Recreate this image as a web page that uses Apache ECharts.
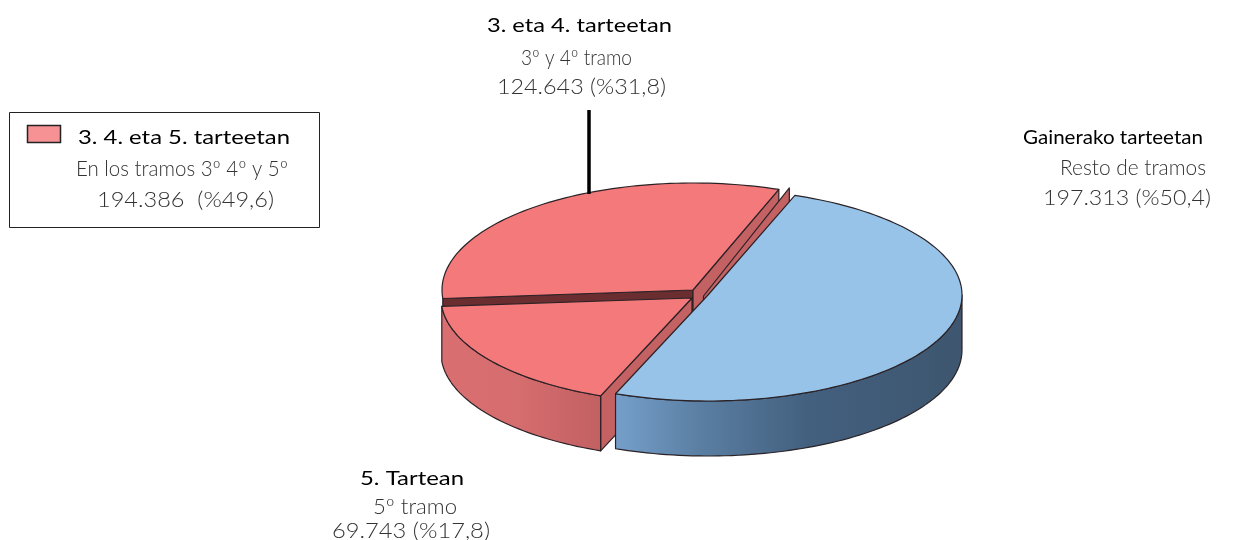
<!DOCTYPE html>
<html>
<head>
<meta charset="utf-8">
<style>
  html, body { margin: 0; padding: 0; background: #fff; }
  #chart { width: 1233px; height: 540px; }
</style>
</head>
<body>
<div id="chart"></div>
<script src="https://cdn.jsdelivr.net/npm/echarts@6/dist/echarts.min.js"></script>
<script>
// slices in draw order: back to front
var sliceNames = ["3. eta 4. tarteetan", "5. Tartean", "Gainerako tarteetan"];
var sliceValues = [124643, 69743, 197313];
var groupValue = 194386; // 3 + 4 + 5

var subNames = ["3º y 4º tramo", "5º tramo", "Resto de tramos"];
var valueLabels = ["124.643 (%31,8)", "69.743 (%17,8)", "197.313 (%50,4)"];

var legendName = "3. 4. eta 5. tarteetan";
var legendSub = "En los tramos 3º 4º y 5º";
var legendValueLabel = "194.386  (%49,6)";

var total = sliceValues[0] + sliceValues[1] + sliceValues[2];
var seam = 290; // angle where the last red slice meets the blue one
var depth = 55;

// each slice is pulled a bit away from the middle
var pieces = [
  { cx: 693, cy: 290, rx: 251, ry: 107, top: "#f4797b" },
  { cx: 692, cy: 298, rx: 251, ry: 105, top: "#f4797b" },
  { cx: 708, cy: 295, rx: 254, ry: 106, top: "#97c3e8" },
];
var edge = "#2b2226";
var cutRed = "#c46163";
var cutDark = "#6b2e30";

function pt(p, deg, drop) {
  var a = (deg * Math.PI) / 180;
  return [p.cx + p.rx * Math.cos(a), p.cy + p.ry * Math.sin(a) + (drop || 0)];
}

function arc(p, from, to, drop) {
  var out = [];
  var n = Math.max(2, Math.ceil(Math.abs(to - from) / 1.5));
  for (var i = 0; i <= n; i++) {
    out.push(pt(p, from + ((to - from) * i) / n, drop));
  }
  return out;
}

function face(points, fill) {
  return {
    type: "polygon",
    shape: { points: points },
    style: { fill: fill, stroke: edge, lineWidth: 1.2, lineJoin: "round" },
  };
}

function cut(p, deg, fill) {
  var a = [p.cx, p.cy];
  var b = pt(p, deg);
  return face([a, b, [b[0], b[1] + depth], [a[0], a[1] + depth]], fill);
}

function wall(p, from, to, fill) {
  // only the part of the rim that faces the viewer
  var a = Math.max(from, 0);
  var b = Math.min(to, 180);
  if (b <= a) return null;
  return face(arc(p, a, b, 0).concat(arc(p, b, a, depth)), fill);
}

var redWall = new echarts.graphic.LinearGradient(0, 0, 1, 0, [
  { offset: 0, color: "#d96f71" },
  { offset: 0.5, color: "#d56c6e" },
  { offset: 1, color: "#c26062" },
]);
var blueWall = new echarts.graphic.LinearGradient(0, 0, 1, 0, [
  { offset: 0, color: "#759fca" },
  { offset: 0.25, color: "#5a7ea2" },
  { offset: 0.55, color: "#43607f" },
  { offset: 1, color: "#3e566f" },
]);

function renderSlice(params, api) {
  var i = params.dataIndex;
  var p = pieces[i];
  var end = seam;
  for (var k = 0; k < i; k++) end -= (sliceValues[k] / total) * 360;
  var start = end - (api.value(0) / total) * 360;
  if (i === 2) {
    start = seam - 360;
    end = start + (api.value(0) / total) * 360;
  }
  var kids = [];
  if (i === 0) {
    // cut face of the whole red group shows behind the upper slice
    var g = { cx: 703.5, cy: 296, rx: p.rx, ry: 115 };
    kids.push(cut(p, start, cutDark));
    kids.push(cut(p, end, cutRed));
    kids.push(cut(g, start + (groupValue / total) * 360 - (sliceValues[1] / total) * 360, cutRed));
  }
  if (i === 1) {
    kids.push(cut(p, start, cutRed));
    kids.push(wall(p, start, end, redWall));
  }
  if (i === 2) {
    kids.push(wall(p, start, end, blueWall));
  }
  kids.push(face([[p.cx, p.cy]].concat(arc(p, start, end, 0)), p.top));
  return { type: "group", children: kids.filter(Boolean) };
}

// text is fitted to the width it has in the picture
var ctx = document.createElement("canvas").getContext("2d");
function label(text, left, right, y, strong) {
  var font = (strong ? "400 19px" : "300 21px") + " Lato, 'Noto Sans', sans-serif";
  ctx.font = font;
  var w = ctx.measureText(text).width;
  return {
    type: "text",
    x: left,
    y: y,
    scaleX: (right - left) / w,
    z: 10,
    style: {
      text: text,
      x: 0,
      y: 0,
      font: font,
      fill: strong ? "#000" : "#333",
      align: "left",
      verticalAlign: "middle",
    },
  };
}

var chart = echarts.init(document.getElementById("chart"));
chart.setOption({
  animation: false,
  backgroundColor: "#fff",
  series: [
    {
      type: "custom",
      coordinateSystem: "none",
      silent: true,
      clip: false,
      renderItem: renderSlice,
      data: sliceValues,
    },
  ],
  graphic: [
    {
      type: "rect",
      shape: { x: 9.5, y: 112.5, width: 310, height: 115 },
      style: { fill: "#fff", stroke: "#222", lineWidth: 1 },
    },
    {
      type: "rect",
      z: 10,
      shape: { x: 27.5, y: 125.5, width: 33, height: 17 },
      style: { fill: "#f79294", stroke: "#222", lineWidth: 1.5 },
    },
    {
      type: "line",
      z: 10,
      shape: { x1: 589, y1: 110, x2: 589, y2: 194 },
      style: { stroke: "#000", lineWidth: 3.5 },
    },
    label(legendName, 78, 290, 138, true),
    label(legendSub, 76, 288, 169),
    label(legendValueLabel, 97, 274, 200),
    label(sliceNames[0], 487, 672, 26, true),
    label(subNames[0], 521, 632, 58),
    label(valueLabels[0], 497, 666, 87),
    label(sliceNames[2], 1023, 1203, 138, true),
    label(subNames[2], 1060, 1206, 168),
    label(valueLabels[2], 1043, 1211, 198),
    label(sliceNames[1], 360, 464, 479, true),
    label(subNames[1], 373, 457, 507),
    label(valueLabels[1], 332, 490, 531),
  ],
});
</script>
</body>
</html>
